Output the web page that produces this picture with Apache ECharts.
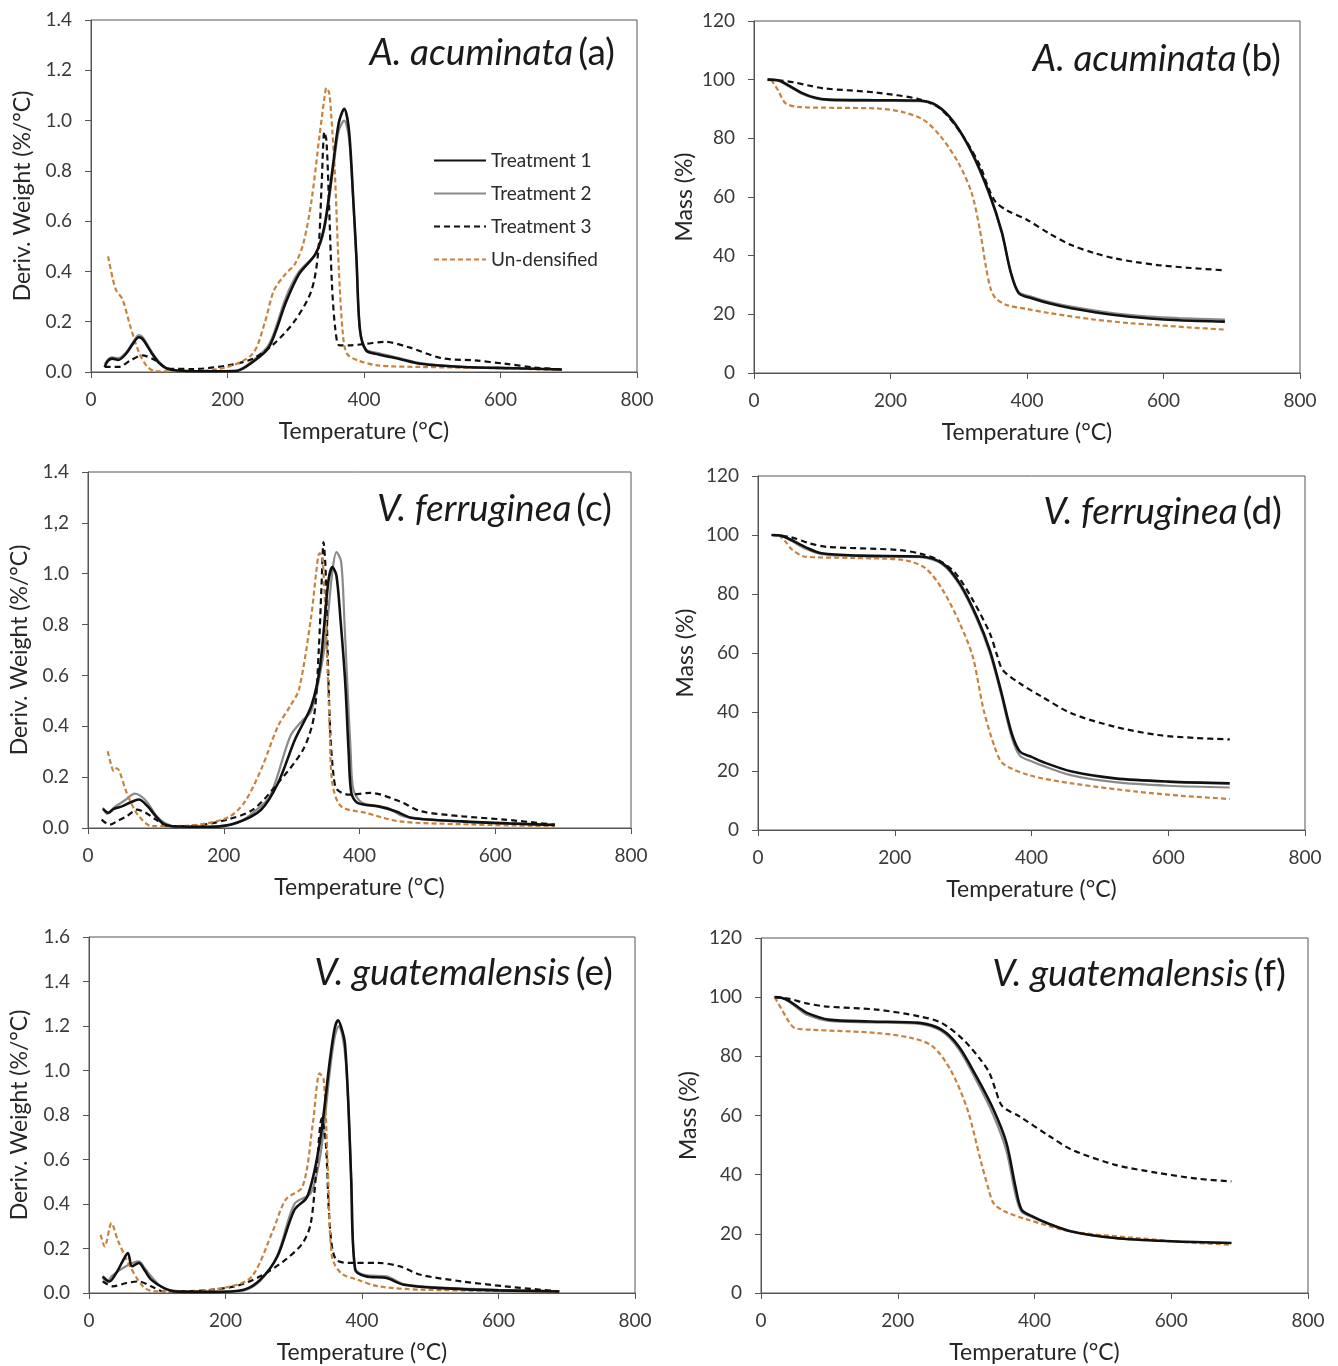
<!DOCTYPE html>
<html><head><meta charset="utf-8">
<script src="https://cdn.jsdelivr.net/npm/echarts@6/dist/echarts.min.js"></script>
<style>html,body{margin:0;padding:0;background:#fff}#c{width:1338px;height:1366px}</style>
</head><body><div id="c"></div>
<script>
// ---------- DATA ----------
const seriesNames = ['Treatment 1', 'Treatment 2', 'Treatment 3', 'Un-densified'];
const xTicks = [0, 200, 400, 600, 800];
const derivTicksAC = ['0.0','0.2','0.4','0.6','0.8','1.0','1.2','1.4'];
const derivTicksC = ['0.0','0.2','0.4','0.6','0.8','1.0','1,2','1.4'];
const derivTicksE = ['0.0','0.2','0.4','0.6','0.8','1.0','1.2','1.4','1.6'];
const massTicks = ['0','20','40','60','80','100','120'];

// (a) A. acuminata DTG
const a_t1 = [[20,0.02],[25,0.045],[31,0.053],[40,0.048],[52,0.075],[62,0.115],[70,0.138],[76,0.13],[89,0.075],[100,0.035],[110,0.015],[126,0.006],[160,0.003],[212,0.004],[237,0.04],[261,0.10],[286,0.28],[305,0.39],[329,0.47],[342,0.58],[354,0.81],[363,0.99],[371,1.047],[378,0.96],[384,0.70],[389,0.45],[394,0.17],[403,0.086],[421,0.07],[452,0.052],[483,0.033],[545,0.02],[620,0.015],[690,0.01]];
const a_t2 = [[20,0.03],[25,0.05],[31,0.058],[40,0.055],[52,0.08],[62,0.12],[70,0.147],[76,0.138],[89,0.08],[100,0.04],[110,0.017],[126,0.006],[160,0.003],[212,0.005],[237,0.045],[261,0.11],[286,0.30],[305,0.40],[329,0.47],[342,0.57],[354,0.79],[363,0.96],[371,1.0],[378,0.93],[384,0.69],[389,0.44],[394,0.17],[403,0.09],[421,0.075],[452,0.055],[483,0.035],[545,0.02],[620,0.015],[690,0.01]];
const a_t3 = [[20,0.02],[40,0.02],[58,0.046],[75,0.066],[95,0.046],[114,0.013],[150,0.012],[200,0.026],[237,0.053],[268,0.112],[299,0.205],[323,0.324],[333,0.48],[338,0.75],[342,0.955],[345,0.92],[349,0.65],[353,0.35],[358,0.17],[364,0.106],[378,0.106],[403,0.112],[430,0.12],[465,0.099],[514,0.055],[563,0.046],[606,0.033],[650,0.018],[690,0.01]];
const a_und = [[25,0.46],[32,0.37],[37,0.324],[46,0.29],[58,0.178],[71,0.073],[83,0.02],[95,0.003],[150,0.003],[200,0.02],[237,0.073],[255,0.2],[268,0.324],[285,0.39],[299,0.43],[311,0.51],[323,0.68],[335,0.944],[342,1.09],[345,1.13],[349,1.11],[352,1.02],[357,0.81],[363,0.416],[369,0.152],[375,0.073],[391,0.046],[421,0.026],[483,0.02],[600,0.015],[690,0.008]];

// (b) A. acuminata TGA
const b_t1 = [[20,100],[35,99.8],[52,97.9],[70,95.5],[90,93.8],[109,93.2],[180,93],[242,92.9],[268,91.2],[293,85.5],[319,75.3],[344,61.7],[363,48.1],[376,34.5],[388,27.2],[407,25.5],[435,23.6],[465,22.1],[528,19.8],[580,18.6],[623,18],[690,17.5]];
const b_t2 = [[20,100],[35,99.7],[52,97.6],[70,95.2],[90,93.6],[109,93],[180,92.8],[242,92.7],[268,91],[293,85.2],[319,75],[344,61.3],[363,47.8],[376,34.5],[388,27.6],[407,26],[435,24.1],[465,22.6],[528,20.3],[580,19.2],[623,18.7],[690,18.2]];
const b_t3 = [[20,100],[40,99.7],[58,99.1],[80,98],[103,97],[179,95.6],[242,93.3],[274,89.9],[306,80.8],[331,70.7],[344,62.8],[354,58.3],[370,55.5],[401,52.1],[433,47.5],[465,43.6],[500,40.8],[528,39.1],[560,37.8],[592,36.8],[640,35.8],[690,35]];
const b_und = [[25,100],[35,96.5],[46,92],[65,90.7],[120,90.4],[179,90.2],[217,89],[249,86.2],[274,80.5],[300,71.4],[319,61.3],[331,48.8],[340,36],[347,28.5],[354,25.5],[370,23.2],[400,21.8],[433,20.4],[496,18.3],[550,17],[592,16.3],[640,15.5],[690,14.8]];

// (c) V. ferruginea DTG
const c_t1 = [[22,0.075],[30,0.06],[38,0.075],[50,0.085],[62,0.1],[75,0.112],[88,0.085],[100,0.046],[112,0.015],[130,0.006],[180,0.005],[218,0.02],[255,0.072],[280,0.177],[305,0.348],[329,0.48],[342,0.638],[354,0.967],[360,1.026],[366,0.993],[372,0.82],[379,0.572],[384,0.3],[388,0.138],[397,0.099],[428,0.085],[453,0.066],[478,0.039],[552,0.026],[620,0.018],[688,0.012]];
const c_t2 = [[22,0.08],[28,0.055],[38,0.08],[55,0.11],[69,0.135],[78,0.125],[88,0.099],[100,0.05],[113,0.02],[130,0.006],[180,0.005],[220,0.02],[243,0.06],[268,0.125],[298,0.361],[315,0.42],[329,0.46],[348,0.703],[360,1.007],[366,1.085],[373,1.046],[378,0.8],[382,0.572],[387,0.3],[391,0.151],[404,0.099],[441,0.079],[465,0.046],[550,0.025],[620,0.017],[688,0.012]];
const c_t3 = [[20,0.033],[32,0.013],[45,0.03],[57,0.046],[72,0.072],[85,0.06],[100,0.033],[118,0.007],[160,0.01],[205,0.033],[243,0.072],[280,0.177],[317,0.309],[333,0.44],[340,0.7],[344,0.95],[347,1.124],[350,1.02],[353,0.7],[357,0.374],[362,0.2],[367,0.151],[385,0.131],[416,0.138],[459,0.105],[490,0.066],[552,0.046],[614,0.033],[688,0.013]];
const c_und = [[29,0.302],[34,0.25],[38,0.223],[42,0.235],[46,0.225],[57,0.138],[67,0.08],[75,0.046],[94,0.007],[150,0.01],[205,0.04],[230,0.099],[255,0.23],[280,0.401],[298,0.48],[311,0.546],[329,0.835],[336,1.0],[341,1.08],[345,1.072],[348,0.95],[351,0.769],[356,0.4],[360,0.177],[373,0.085],[410,0.059],[459,0.026],[550,0.015],[688,0.007]];

// (d) V. ferruginea TGA
const d_t1 = [[20,100],[35,99.7],[49,98.3],[70,95.8],[93,93.8],[150,93],[238,92.7],[270,90.4],[295,83.6],[320,72.3],[339,61],[355,47.5],[371,32.8],[383,26.6],[400,24.8],[415,23.2],[459,19.8],[522,17.5],[600,16.4],[690,15.8]];
const d_t2 = [[20,100],[35,99.6],[49,98],[70,95.3],[93,93.5],[150,92.8],[238,92.5],[270,90],[295,83],[320,71.5],[339,60],[355,46.5],[371,31.5],[383,25.2],[400,23.3],[415,21.9],[459,18.5],[522,16.2],[600,15.0],[690,14.4]];
const d_t3 = [[20,100],[49,99.2],[75,97.2],[100,96],[207,94.9],[240,93.5],[264,91.5],[289,87],[314,78],[339,66.7],[350,59],[358,54.2],[383,49.7],[415,45.2],[459,39.5],[522,35],[585,32.2],[640,31.2],[690,30.7]];
const d_und = [[30,100],[40,97.8],[50,95],[68,92.7],[140,92.2],[213,91.5],[245,88.7],[270,81.4],[295,70.1],[314,58.8],[330,40.7],[346,28.2],[358,22.6],[396,18.6],[459,15.8],[554,13],[620,11.6],[690,10.5]];

// (e) V. guatemalensis DTG
const e_t1 = [[20,0.075],[30,0.052],[40,0.09],[48,0.135],[57,0.18],[63,0.12],[73,0.135],[82,0.1],[91,0.06],[110,0.022],[130,0.006],[180,0.005],[227,0.015],[251,0.06],[276,0.164],[301,0.374],[320,0.434],[338,0.673],[353,1.047],[360,1.19],[365,1.226],[370,1.19],[375,1.121],[380,0.85],[384,0.523],[390,0.105],[405,0.075],[436,0.067],[461,0.037],[516,0.022],[600,0.012],[689,0.007]];
const e_t2 = [[20,0.067],[27,0.05],[33,0.075],[54,0.12],[73,0.142],[82,0.11],[91,0.075],[105,0.03],[120,0.012],[180,0.005],[227,0.012],[251,0.055],[276,0.17],[301,0.40],[325,0.449],[340,0.64],[353,1.0],[360,1.15],[366,1.20],[371,1.16],[376,1.05],[381,0.78],[385,0.45],[390,0.11],[405,0.08],[436,0.075],[461,0.04],[516,0.024],[600,0.014],[689,0.008]];
const e_t3 = [[20,0.052],[35,0.03],[55,0.045],[73,0.052],[91,0.03],[110,0.007],[160,0.01],[214,0.03],[251,0.075],[288,0.15],[313,0.224],[325,0.314],[334,0.583],[341,0.785],[347,0.673],[353,0.299],[362,0.15],[387,0.135],[424,0.135],[455,0.12],[486,0.082],[547,0.052],[609,0.03],[689,0.007]];
const e_und = [[17,0.262],[23,0.209],[33,0.314],[42,0.239],[60,0.12],[79,0.03],[95,0.007],[150,0.008],[208,0.03],[239,0.075],[270,0.284],[288,0.419],[313,0.479],[328,0.763],[338,0.987],[344,0.957],[350,0.553],[356,0.164],[369,0.09],[393,0.06],[424,0.03],[486,0.015],[689,0.007]];

// (f) V. guatemalensis TGA
const f_t1 = [[20,100],[30,99.8],[42,98.6],[55,96.5],[68,94.6],[99,92.4],[160,91.8],[232,91.3],[264,89],[289,83.4],[315,73.2],[340,62],[359,50.7],[372,36.1],[381,28.2],[397,25.9],[420,23.5],[454,20.8],[517,18.6],[600,17.5],[688,16.9]];
const f_t2 = [[20,100],[30,99.7],[42,98.3],[55,96],[68,94],[99,92],[160,91.5],[232,91],[264,88.5],[289,82.5],[315,71.8],[340,60],[359,48],[372,33.5],[381,27.5],[397,25.6],[420,23.4],[454,20.8],[517,18.6],[600,17.5],[688,16.9]];
const f_t3 = [[20,100],[42,99.4],[65,98],[93,96.9],[169,95.8],[232,93.5],[264,91.3],[296,85.6],[321,78.9],[334,74.4],[343,68.7],[353,63.1],[378,59.7],[422,53],[454,48.5],[517,43.4],[580,40.6],[640,38.6],[688,37.7]];
const f_und = [[20,100],[30,96],[40,92],[49,89.6],[74,89],[169,87.9],[220,86.2],[251,83.4],[277,75.5],[302,62],[321,45],[333,35],[340,30.4],[356,27.6],[390,24.8],[454,20.8],[549,18.6],[620,17.2],[688,16.3]];

// ---------- LAYOUT ----------
const FONT = 'Lato, "Open Sans", sans-serif';
const panels = [
  {grid:{left:91,top:20,width:546,height:352}, ymax:1.4, yint:0.2, ticks:derivTicksAC, yname:'Deriv. Weight (%/°C)', gap:57, sp:'A. acuminata', tag:'(a)', tr:1338-615, tt:32, data:[a_t1,a_t2,a_t3,a_und]},
  {grid:{left:754,top:21,width:546,height:352}, ymax:120, yint:20, ticks:massTicks, yname:'Mass (%)', gap:58, sp:'A. acuminata', tag:'(b)', tr:1338-1281, tt:38, data:[b_t1,b_t2,b_t3,b_und]},
  {grid:{left:88,top:472,width:543,height:356}, ymax:1.4, yint:0.2, ticks:derivTicksC, yname:'Deriv. Weight (%/°C)', gap:57, sp:'V. ferruginea', tag:'(c)', tr:1338-612, tt:488, data:[c_t1,c_t2,c_t3,c_und]},
  {grid:{left:758,top:476,width:547,height:354}, ymax:120, yint:20, ticks:massTicks, yname:'Mass (%)', gap:61, sp:'V. ferruginea', tag:'(d)', tr:1338-1282, tt:491, data:[d_t1,d_t2,d_t3,d_und]},
  {grid:{left:89,top:937,width:546,height:356}, ymax:1.6, yint:0.2, ticks:derivTicksE, yname:'Deriv. Weight (%/°C)', gap:58, sp:'V. guatemalensis', tag:'(e)', tr:1338-613, tt:952, data:[e_t1,e_t2,e_t3,e_und]},
  {grid:{left:761,top:938,width:547,height:355}, ymax:120, yint:20, ticks:massTicks, yname:'Mass (%)', gap:61, sp:'V. guatemalensis', tag:'(f)', tr:1338-1286, tt:953, data:[f_t1,f_t2,f_t3,f_und]}
];
const styles = [
  {color:'#111111', width:2.6, type:'solid'},
  {color:'#8a8a8a', width:2.2, type:'solid'},
  {color:'#111111', width:2.2, type:[6,4]},
  {color:'#c8823f', width:2.2, type:[5,3]}
];

const axisColor = '#555';
const labelColor = '#3a3a3a';
const grids = [], xAxes = [], yAxes = [], series = [], titles = [];
panels.forEach((p, i) => {
  grids.push(Object.assign({show:true, borderColor:axisColor, borderWidth:1, backgroundColor:'transparent'}, p.grid));
  xAxes.push({
    type:'value', gridIndex:i, min:0, max:800, interval:200,
    name:'Temperature (°C)', nameLocation:'middle', nameGap:48,
    nameTextStyle:{fontFamily:FONT, fontSize:23, color:'#262626'},
    axisLine:{show:true, onZero:false, lineStyle:{color:axisColor, width:1}},
    axisTick:{show:true, inside:false, length:6, lineStyle:{color:axisColor}},
    axisLabel:{fontFamily:FONT, fontSize:19, color:labelColor, margin:18,
      formatter:(v)=>{const k=xTicks.indexOf(v); return k>=0?String(xTicks[k]):'';}},
    splitLine:{show:false}
  });
  yAxes.push({
    type:'value', gridIndex:i, min:0, max:p.ymax, interval:p.yint,
    name:p.yname, nameLocation:'middle', nameGap:p.gap, nameRotate:90,
    nameTextStyle:{fontFamily:FONT, fontSize:23, color:'#262626'},
    axisLine:{show:true, lineStyle:{color:axisColor, width:1}},
    axisTick:{show:true, inside:false, length:6, lineStyle:{color:axisColor}},
    axisLabel:{fontFamily:FONT, fontSize:19, color:labelColor, margin:19,
      formatter:((ticks)=> (v, idx)=> ticks[idx] !== undefined ? ticks[idx] : '')(p.ticks)},
    splitLine:{show:false}
  });
  p.data.forEach((d, k) => {
    const s = styles[k];
    series.push({
      type:'line', name:seriesNames[k], xAxisIndex:i, yAxisIndex:i, data:d,
      showSymbol:false, symbol:'none', smooth:0.3,
      lineStyle:{color:s.color, width:s.width, type:s.type},
      itemStyle:{color:s.color}, silent:true, animation:false, z: k===0?3:2
    });
  });
  titles.push({
    text:'{i|' + p.sp + '} {n|' + p.tag + '}', right:p.tr, top:p.tt, padding:0,
    textStyle:{fontWeight:'normal', rich:{
      i:{fontFamily:FONT, fontSize:37, fontStyle:'italic', fontWeight:'normal', color:'#1a1a1a', lineHeight:42},
      n:{fontFamily:FONT, fontSize:37, fontWeight:'normal', color:'#1a1a1a', lineHeight:42}
    }}
  });
});

const chart = echarts.init(document.getElementById('c'), null, {renderer:'canvas'});
chart.setOption({
  backgroundColor:'#ffffff',
  animation:false,
  title:titles,
  grid:grids, xAxis:xAxes, yAxis:yAxes, series:series,
  legend:{
    show:true, orient:'vertical', left:433, top:151, padding:0, itemWidth:52, itemHeight:18, itemGap:14,
    data:seriesNames, selectedMode:false,
    itemStyle:{opacity:0},
    textStyle:{fontFamily:FONT, fontSize:19, color:'#2a2a2a'}
  }
});
</script></body></html>
